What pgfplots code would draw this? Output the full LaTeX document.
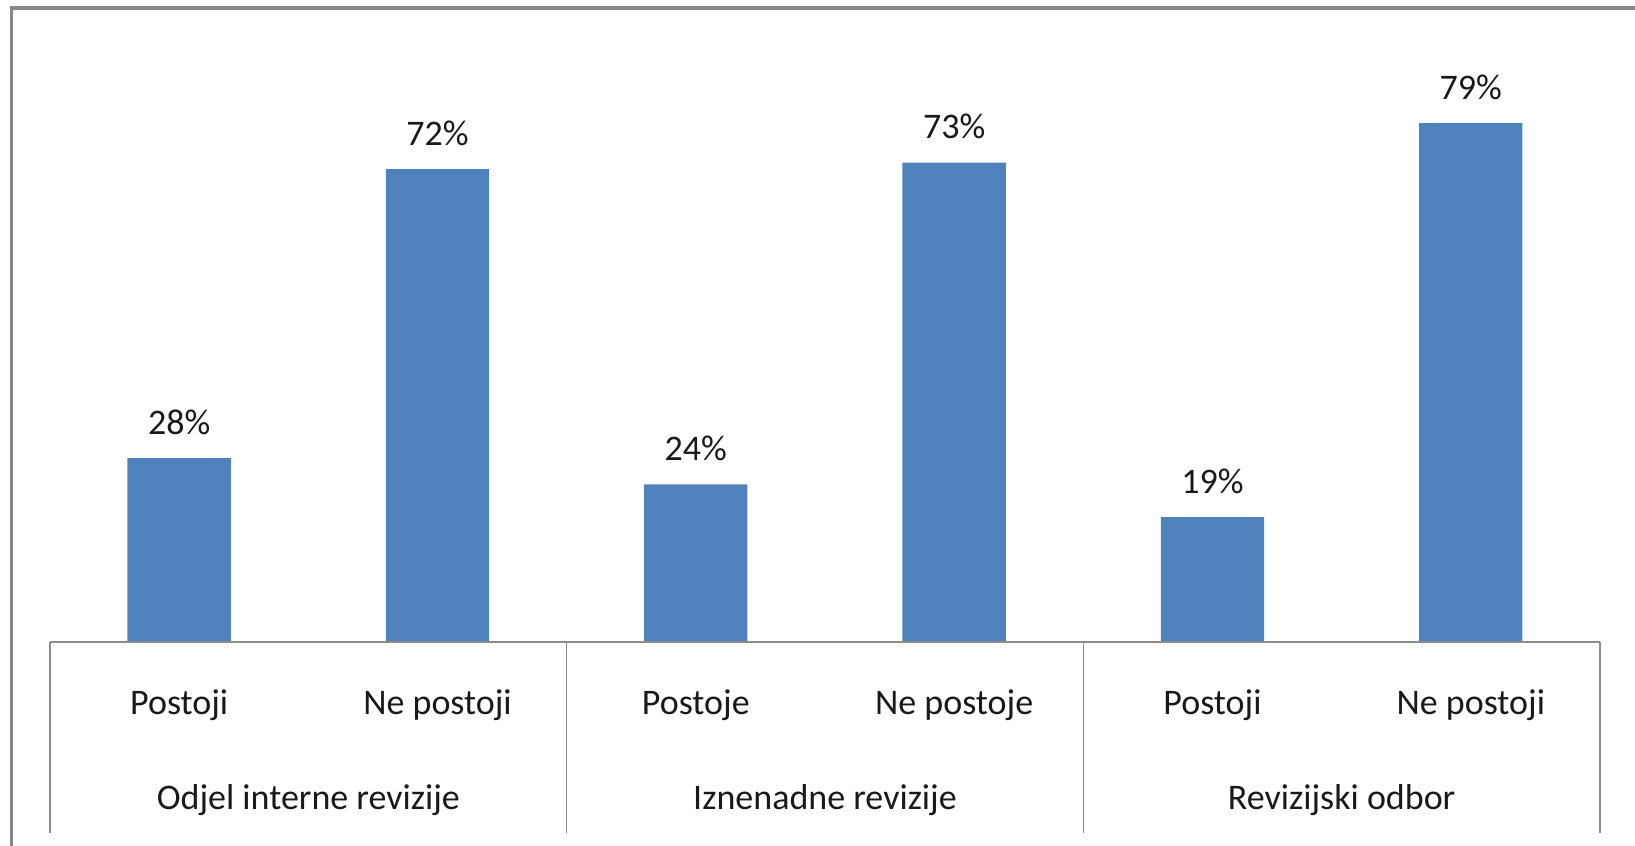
\documentclass[border=0pt]{standalone}
\usepackage{pgfplots}
\pgfplotsset{compat=1.18}
\usepackage{fontspec}
\setmainfont{Carlito}
\definecolor{barblue}{HTML}{4F81BD}
\definecolor{framegray}{HTML}{878787}
\definecolor{linegray}{HTML}{8C8C8C}
\begin{document}
\begin{tikzpicture}[lbl/.style={anchor=base, text=black!90, font=\fontsize{18}{21}\selectfont}]
\useasboundingbox (-25pt,-102pt) rectangle (792.5pt,321pt);
\begin{axis}[
  at={(64.583pt,0pt)}, anchor=origin,
  scale only axis,
  width=775pt, height=295.5pt,
  xmin=-0.5, xmax=5.5,
  ymin=0, ymax=90,
  axis lines=none,
  xtick=\empty, ytick=\empty,
  clip=false,
  /pgf/number format/assume math mode=true,
  ybar, bar width=0.4,
  nodes near coords={\pgfmathprintnumber{\pgfplotspointmeta}\%},
  every node near coord/.append style={anchor=base, yshift=12pt, text=black!90, font=\fontsize{18}{21}\selectfont},
]
\addplot[fill=barblue, draw=none] coordinates {(0,28) (1,72) (2,24) (3,73) (4,19) (5,79)};
\draw[linegray, line width=0.6pt] (axis cs:-0.5,0) -- (axis cs:5.5,0);
\draw[linegray, line width=0.6pt] (axis cs:-0.5,0) -- ([yshift=-95.5pt]axis cs:-0.5,0);
\draw[linegray, line width=0.6pt] (axis cs:1.5,0) -- ([yshift=-95.5pt]axis cs:1.5,0);
\draw[linegray, line width=0.6pt] (axis cs:3.5,0) -- ([yshift=-95.5pt]axis cs:3.5,0);
\draw[linegray, line width=0.6pt] (axis cs:5.5,0) -- ([yshift=-95.5pt]axis cs:5.5,0);
\node[lbl] at ([yshift=-36.5pt]axis cs:0,0) {Postoji};
\node[lbl] at ([yshift=-36.5pt]axis cs:1,0) {Ne postoji};
\node[lbl] at ([yshift=-36.5pt]axis cs:2,0) {Postoje};
\node[lbl] at ([yshift=-36.5pt]axis cs:3,0) {Ne postoje};
\node[lbl] at ([yshift=-36.5pt]axis cs:4,0) {Postoji};
\node[lbl] at ([yshift=-36.5pt]axis cs:5,0) {Ne postoji};
\node[lbl] at ([yshift=-83.5pt]axis cs:0.5,0) {Odjel interne revizije};
\node[lbl] at ([yshift=-83.5pt]axis cs:2.5,0) {Iznenadne revizije};
\node[lbl] at ([yshift=-83.5pt]axis cs:4.5,0) {Revizijski odbor};
\end{axis}
\draw[framegray, line width=1.6pt] (-19.25pt,-102pt) -- (-19.25pt,317pt) -- (792.5pt,317pt);
\end{tikzpicture}
\end{document}
